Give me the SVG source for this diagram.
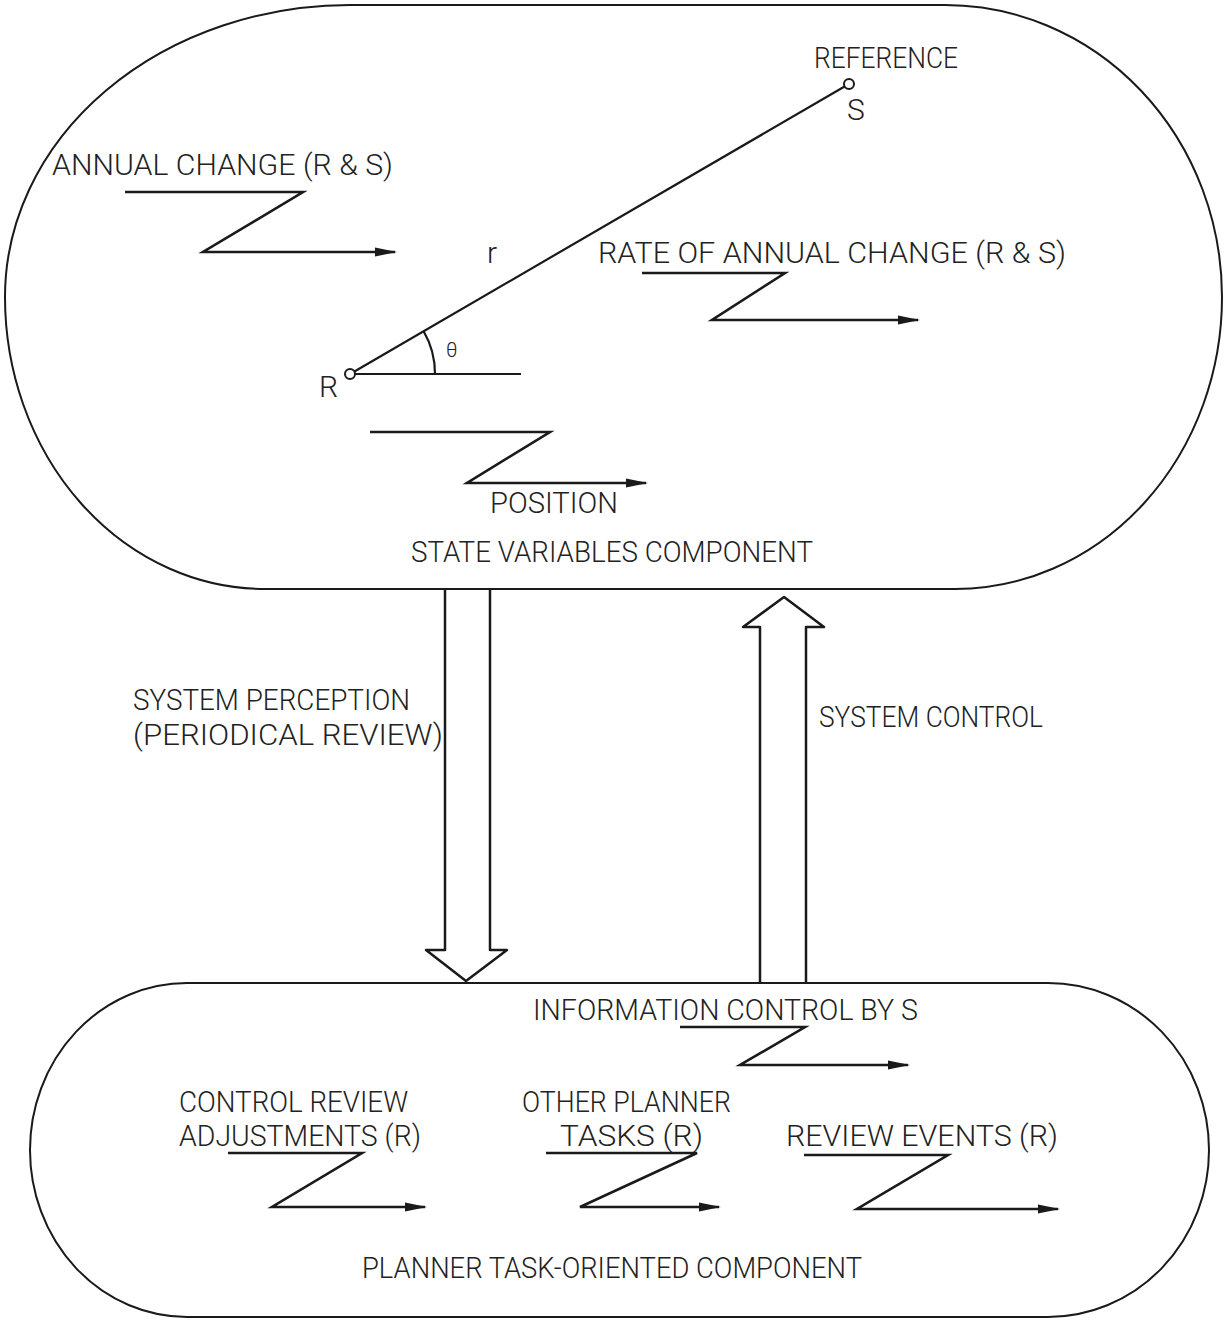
<svg xmlns="http://www.w3.org/2000/svg" width="1227" height="1321" viewBox="0 0 1227 1321">
<defs>
<marker id="ah" viewBox="0 0 22 12" refX="20" refY="6" markerWidth="22" markerHeight="12" markerUnits="userSpaceOnUse" orient="auto">
<path d="M0,1.5 L22,6 L0,10.5 Z" fill="#1a1a1a"/>
</marker>
<style>
.t{font-family:Roboto,"Liberation Sans Narrow","DejaVu Sans Condensed","Liberation Sans",sans-serif;font-weight:300;font-size:30px;fill:#222222;}
.sh{fill:none;stroke:#1a1a1a;stroke-width:2;}
.z{fill:none;stroke:#1a1a1a;stroke-width:2.6;stroke-linejoin:miter;marker-end:url(#ah);}
.ln{fill:none;stroke:#1a1a1a;stroke-width:2.2;}
.blk{fill:none;stroke:#1a1a1a;stroke-width:2.5;stroke-linejoin:round;}
</style>
</defs>
<rect width="1227" height="1321" fill="#ffffff"/>

<g id="state-variables-component">
<path class="sh" d="M350,5 H945 A277,292 0 0 1 1222,297 A267,292 0 0 1 955,589 H265 A260,292 0 0 1 5,297 A345,292 0 0 1 350,5 Z"/>
<text class="t" x="411" y="562" textLength="402" lengthAdjust="spacingAndGlyphs">STATE VARIABLES COMPONENT</text>
</g>

<g id="reference-geometry">
<line class="ln" x1="354" y1="371.7" x2="845" y2="86.3"/>
<line class="ln" x1="355" y1="374" x2="521" y2="374"/>
<circle cx="350" cy="374" r="5" fill="#fff" stroke="#1a1a1a" stroke-width="2"/>
<circle cx="849" cy="84" r="5" fill="#fff" stroke="#1a1a1a" stroke-width="2"/>
<path class="ln" d="M423.5,331 A85,85 0 0 1 435,374"/>
<text class="t" x="814" y="68" textLength="144" lengthAdjust="spacingAndGlyphs">REFERENCE</text>
<text class="t" x="847" y="120">S</text>
<text class="t" x="319" y="397">R</text>
<text class="t" x="487" y="263">r</text>
<text class="t" x="446" y="357" style="font-size:20px">θ</text>
</g>

<g id="annual-change">
<text class="t" x="52" y="175" textLength="341" lengthAdjust="spacingAndGlyphs">ANNUAL CHANGE (R &amp; S)</text>
</g>
<g id="rate-of-annual-change">
<text class="t" x="598" y="263" textLength="468" lengthAdjust="spacingAndGlyphs">RATE OF ANNUAL CHANGE (R &amp; S)</text>
</g>
<g id="position">
<text class="t" x="490" y="513" textLength="128" lengthAdjust="spacingAndGlyphs">POSITION</text>
</g>

<g id="planner-task-oriented-component">
<path class="sh" d="M187,983 H1048 A161,167 0 0 1 1209,1150 A161,167 0 0 1 1048,1317 H187 A157,167 0 0 1 30,1150 A157,167 0 0 1 187,983 Z"/>
<text class="t" x="362" y="1278" textLength="500" lengthAdjust="spacingAndGlyphs">PLANNER TASK-ORIENTED COMPONENT</text>
</g>
<g id="information-control">
<text class="t" x="533" y="1020" textLength="385" lengthAdjust="spacingAndGlyphs">INFORMATION CONTROL BY S</text>
</g>
<g id="control-review-adjustments">
<text class="t" x="179" y="1112" textLength="229" lengthAdjust="spacingAndGlyphs">CONTROL REVIEW</text>
<text class="t" x="179" y="1146" textLength="242" lengthAdjust="spacingAndGlyphs">ADJUSTMENTS (R)</text>
</g>
<g id="other-planner-tasks">
<text class="t" x="522" y="1112" textLength="209" lengthAdjust="spacingAndGlyphs">OTHER PLANNER</text>
<text class="t" x="560" y="1146" textLength="143" lengthAdjust="spacingAndGlyphs">TASKS (R)</text>
</g>
<g id="review-events">
<text class="t" x="786" y="1146" textLength="272" lengthAdjust="spacingAndGlyphs">REVIEW EVENTS (R)</text>
</g>

<g id="system-perception">
<text class="t" x="133" y="710" textLength="277" lengthAdjust="spacingAndGlyphs">SYSTEM PERCEPTION</text>
<text class="t" x="133" y="745" textLength="310" lengthAdjust="spacingAndGlyphs">(PERIODICAL REVIEW)</text>
</g>
<g id="system-control">
<text class="t" x="819" y="727" textLength="224" lengthAdjust="spacingAndGlyphs">SYSTEM CONTROL</text>
</g>

<g id="connectors">
<polyline class="z" points="125,192 303,192 203,252 395,252"/>
<polyline class="z" points="642,273 785,273 712,320 918,320"/>
<polyline class="z" points="370,432 550,432 467,483 646,483"/>
<polyline class="z" points="680,1027 805,1027 740,1065 908,1065"/>
<polyline class="z" points="228,1153 362,1153 272,1207 425,1207"/>
<polyline class="z" points="546,1153 697,1153 580,1207 719,1207"/>
<polyline class="z" points="804,1155 948,1155 857,1209 1058,1209"/>
<path class="blk" d="M445,589 V950 H426 L466,981 L507,950 H490 V589"/>
<path class="blk" d="M760,982 V627 H743 L784,597 L824,627 H806 V982"/>
</g>
</svg>
